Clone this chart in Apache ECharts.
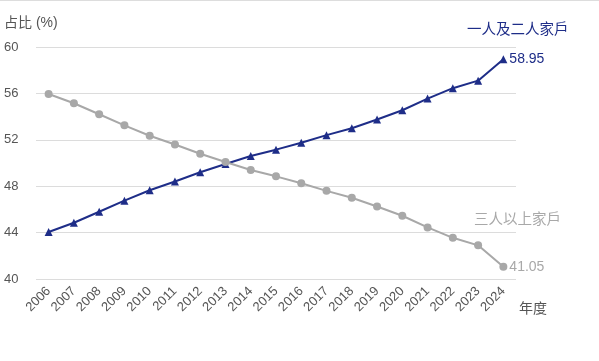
<!DOCTYPE html>
<html><head><meta charset="utf-8">
<script src="https://cdn.jsdelivr.net/npm/echarts@6/dist/echarts.min.js"></script>
<style>html,body{margin:0;padding:0;background:#fff}#c{width:599px;height:361px}</style>
</head><body><div id="c"></div>
<script>
const years = ['2006','2007','2008','2009','2010','2011','2012','2013','2014','2015','2016','2017','2018','2019','2020','2021','2022','2023','2024'];
const smallHouseholds = [44.05,44.85,45.8,46.75,47.65,48.4,49.2,49.92,50.6,51.15,51.75,52.4,53.0,53.75,54.55,55.55,56.45,57.1,58.95];
const largeHouseholds = [55.95,55.15,54.2,53.25,52.35,51.6,50.8,50.08,49.4,48.85,48.25,47.6,47.0,46.25,45.45,44.45,43.55,42.9,41.05];
const yTicks = [40,44,48,52,56,60];
const seriesNames = ['一人及二人家戶','三人以上家戶'];

const FONT = '"Liberation Sans","Noto Sans CJK TC",sans-serif';
const BLUE = '#1e2d88', GRAY = '#a8a8a8', TEXT = '#555555';
const chart = echarts.init(document.getElementById('c'));
chart.setOption({
  animation: false,
  textStyle: {fontFamily: FONT},
  grid: {left: 36, right: 83, top: 47, bottom: 82},
  xAxis: {
    type: 'category', data: years, boundaryGap: true,
    axisLine: {show: false}, axisTick: {show: false},
    axisLabel: {rotate: 45, color: TEXT, fontSize: 13, margin: 10, fontFamily: FONT}
  },
  yAxis: {
    type: 'value', min: yTicks[0], max: yTicks[yTicks.length-1], interval: 4,
    name: '占比 (%)', nameLocation: 'end', nameGap: 17,
    nameTextStyle: {color: TEXT, fontSize: 14, align: 'left', padding: [0,0,0,-32], fontFamily: FONT},
    axisLine: {show: false}, axisTick: {show: false},
    axisLabel: {color: TEXT, fontSize: 13, align: 'left', margin: 32, fontFamily: FONT},
    splitLine: {lineStyle: {color: '#dcdcdc', width: 1}}
  },
  graphic: [
    {type: 'rect', shape: {x: 0, y: 0, width: 599, height: 1}, style: {fill: '#dddddd'}},
    {type: 'text', left: 467, top: 23, style: {text: seriesNames[0], fill: BLUE, font: '14.5px ' + FONT}},
    {type: 'text', left: 474, top: 213, style: {text: seriesNames[1], fill: GRAY, font: '14.5px ' + FONT}},
    {type: 'text', left: 519, top: 302, style: {text: '年度', fill: TEXT, font: '14px ' + FONT}}
  ],
  series: [
    {
      name: seriesNames[0], type: 'line', data: smallHouseholds,
      symbol: 'triangle', symbolSize: 8, lineStyle: {color: BLUE, width: 2}, itemStyle: {color: BLUE},
      endLabel: {show: true, color: BLUE, fontSize: 14, distance: 6, formatter: p => p.value.toFixed(2), fontFamily: FONT}
    },
    {
      name: seriesNames[1], type: 'line', data: largeHouseholds,
      symbol: 'circle', symbolSize: 8, lineStyle: {color: GRAY, width: 2}, itemStyle: {color: GRAY},
      endLabel: {show: true, color: GRAY, fontSize: 14, distance: 6, formatter: p => p.value.toFixed(2), fontFamily: FONT}
    }
  ]
});
</script></body></html>
